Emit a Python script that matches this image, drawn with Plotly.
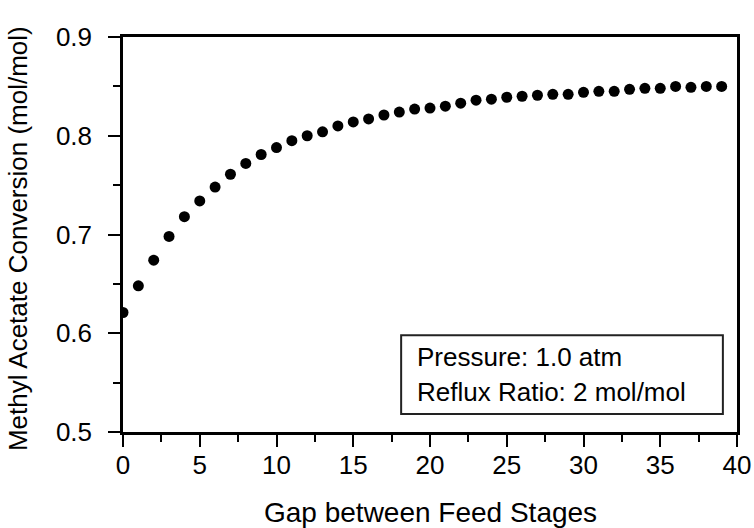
import plotly.graph_objects as go

gap = [0, 1, 2, 3, 4, 5, 6, 7, 8, 9, 10, 11, 12, 13, 14, 15, 16, 17, 18, 19,
       20, 21, 22, 23, 24, 25, 26, 27, 28, 29, 30, 31, 32, 33, 34, 35, 36, 37, 38, 39]
conversion = [0.621, 0.648, 0.674, 0.698, 0.718, 0.734, 0.748, 0.761, 0.772, 0.781,
              0.788, 0.795, 0.800, 0.804, 0.810, 0.814, 0.817, 0.821, 0.824, 0.827,
              0.828, 0.830, 0.833, 0.836, 0.837, 0.839, 0.840, 0.841, 0.842, 0.842,
              0.844, 0.845, 0.845, 0.847, 0.848, 0.848, 0.850, 0.849, 0.850, 0.850]

x_ticks = [0, 5, 10, 15, 20, 25, 30, 35, 40]
y_ticks = [0.5, 0.6, 0.7, 0.8, 0.9]
x_title = "Gap between Feed Stages"
y_title = "Methyl Acetate Conversion (mol/mol)"
info_lines = ["Pressure: 1.0 atm", "Reflux Ratio: 2 mol/mol"]

FONT = "Liberation Sans, Arial, sans-serif"

fig = go.Figure()
fig.add_trace(go.Scatter(
    x=gap, y=conversion, mode="markers",
    marker=dict(symbol="circle", size=11, color="black"),
    showlegend=False,
))

axis_common = dict(
    showline=True, linecolor="black", linewidth=2.5, mirror=True,
    ticks="outside", ticklen=12, tickwidth=2, tickcolor="black",
    showgrid=False, zeroline=False,
    tickfont=dict(family=FONT, size=26, color="black"),
)

fig.update_xaxes(
    range=[0, 40], tickvals=x_ticks,
    ticktext=[str(v) for v in x_ticks],
    minor=dict(ticks="outside", dtick=2.5, tick0=0, ticklen=7, tickwidth=2, tickcolor="black"),
    ticklabelstandoff=-4,
    **axis_common,
)
fig.update_yaxes(
    range=[0.5, 0.9], tickvals=y_ticks,
    ticktext=[f"{v:.1f}" for v in y_ticks],
    minor=dict(ticks="outside", dtick=0.05, tick0=0.5, ticklen=7, tickwidth=2, tickcolor="black"),
    ticklabelstandoff=11,
    **axis_common,
)

# axis titles
fig.add_annotation(text=x_title, xref="paper", yref="paper", x=0.5, y=-0.205,
                   xanchor="center", yanchor="middle", showarrow=False,
                   font=dict(family=FONT, size=28, color="black"))
fig.add_annotation(text=y_title, xref="paper", yref="paper", x=-0.170, y=0.49,
                   xanchor="center", yanchor="middle", textangle=-90, showarrow=False,
                   font=dict(family=FONT, size=26, color="black"))

fig.add_shape(type="rect", xref="paper", yref="paper",
              x0=0.453, x1=0.977, y0=0.0455, y1=0.245,
              line=dict(color="#222222", width=2), fillcolor="white", layer="above")

line_y = [0.190, 0.102]
for txt, yy in zip(info_lines, line_y):
    fig.add_annotation(text=txt, xref="paper", yref="paper", x=0.476, y=yy,
                       xanchor="left", yanchor="middle", showarrow=False,
                       font=dict(family=FONT, size=26, color="black"))

fig.update_layout(
    width=754, height=528,
    margin=dict(l=123, r=17, t=37, b=96, autoexpand=False),
    plot_bgcolor="white", paper_bgcolor="white",
    font=dict(family=FONT, color="black"),
)

fig.write_html("out.html")
